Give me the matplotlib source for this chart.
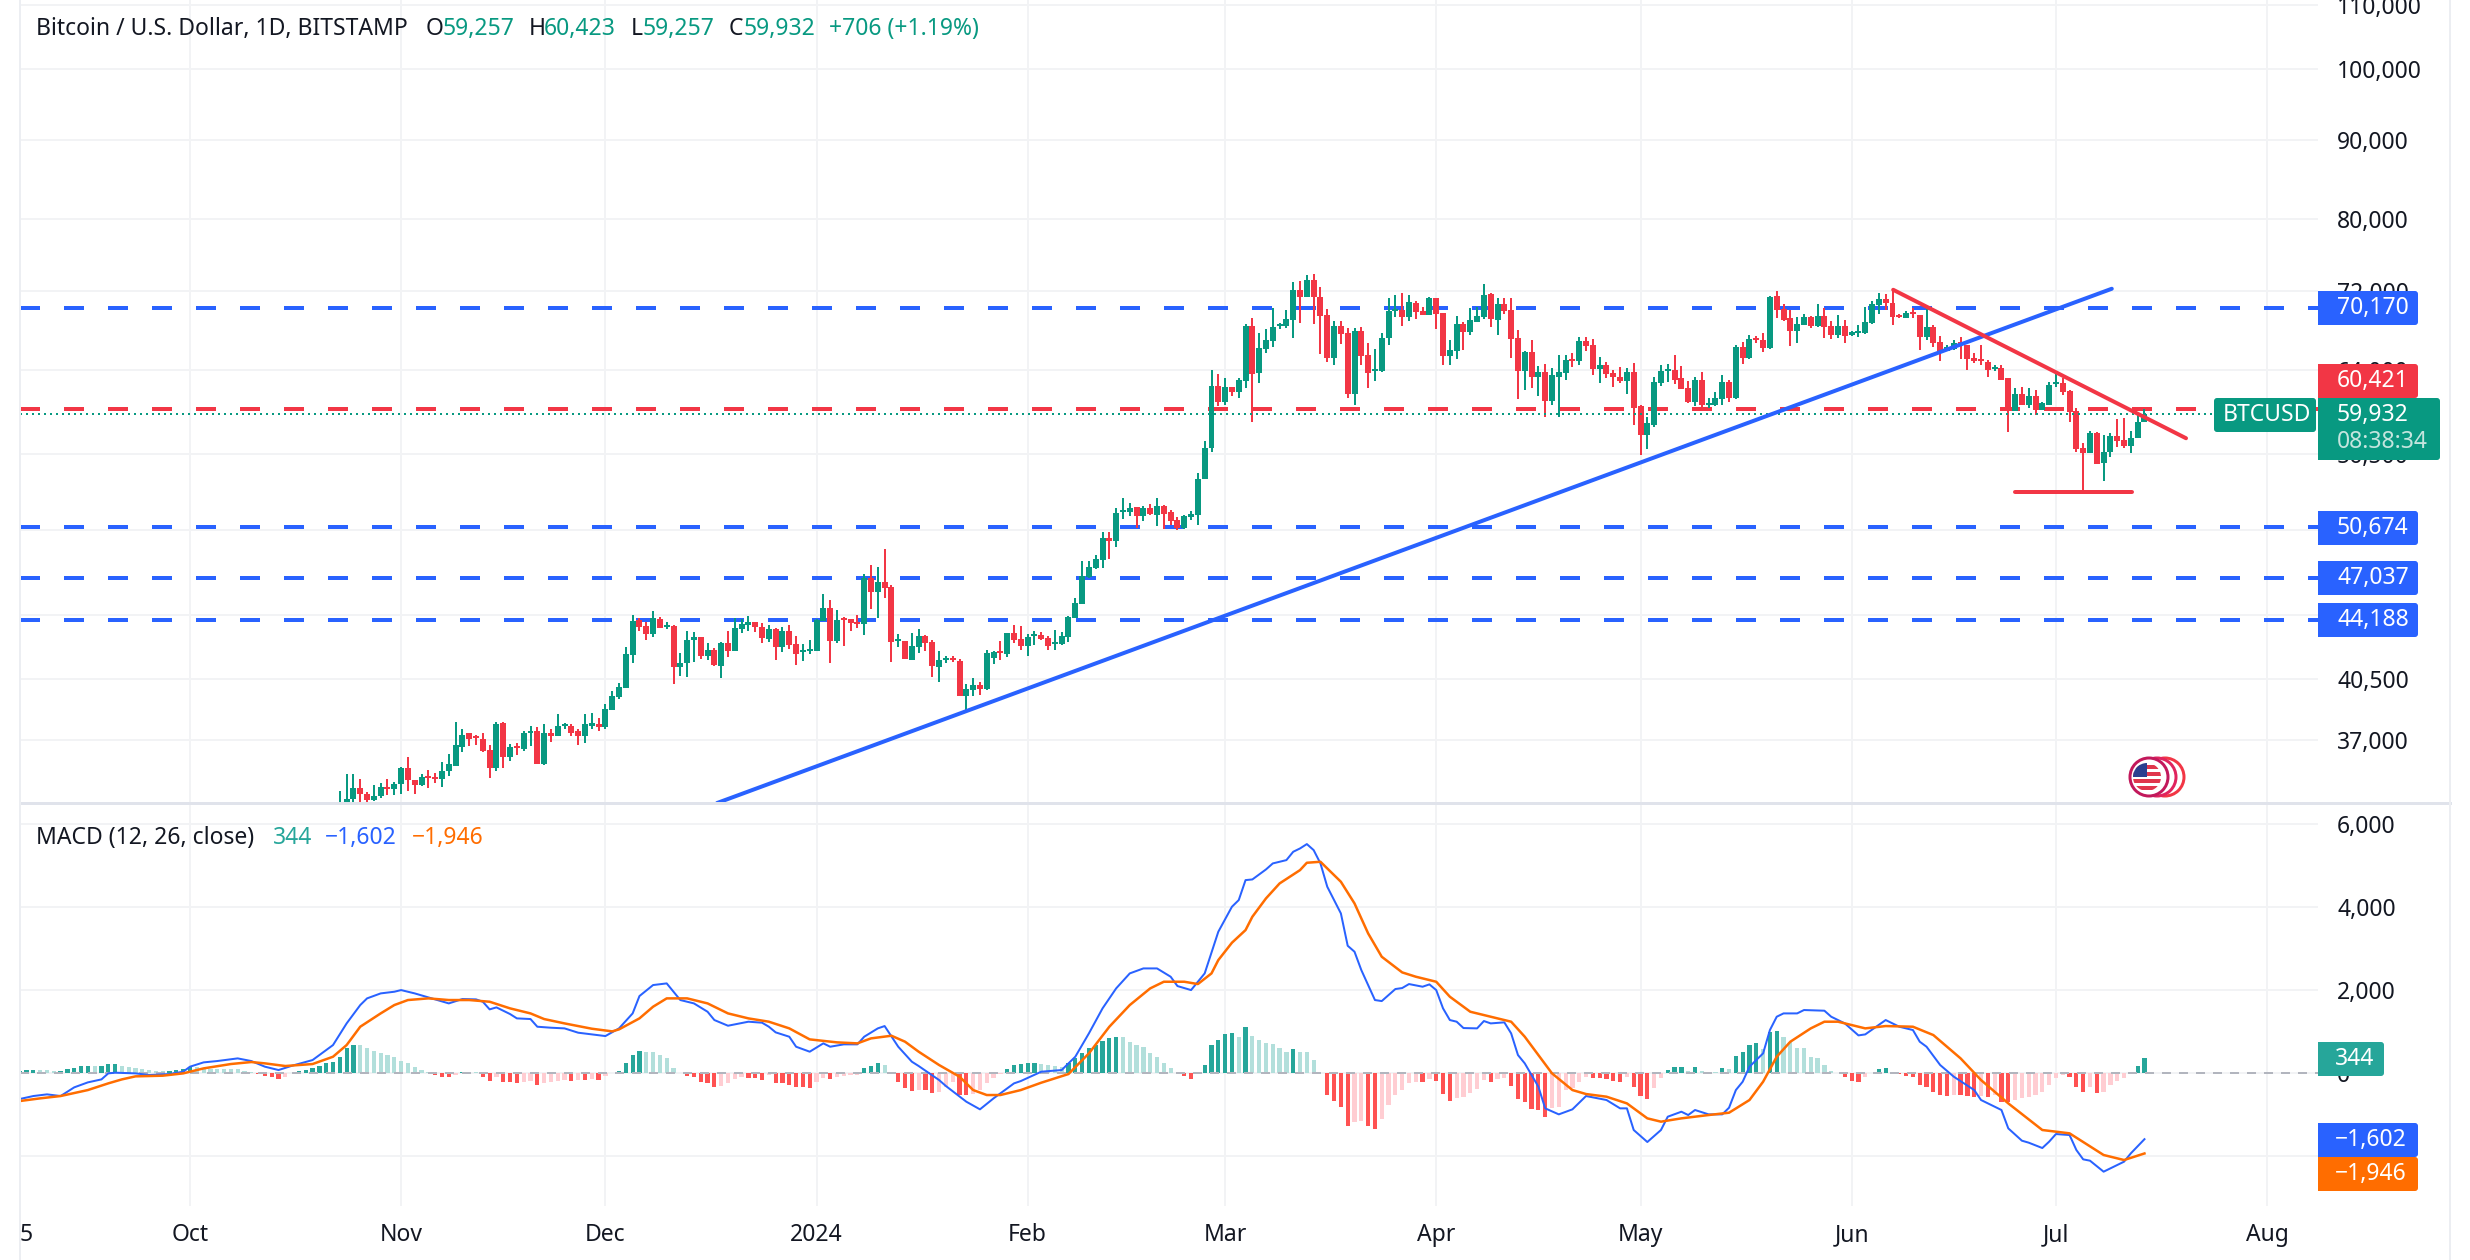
import numpy as np
import matplotlib
matplotlib.use('Agg')
import matplotlib.pyplot as plt
from matplotlib.patches import Rectangle, Circle, FancyBboxPatch
from matplotlib.ticker import NullLocator

plt.rcParams['font.family'] = ['Noto Sans', 'DejaVu Sans']
plt.rcParams['lines.scale_dashes'] = False

# candles, first one is 23 Oct 2023 (day 22, day 0 = 1 Oct 2023)
first_candle_day = 22
opens = [30500,33050,33900,34430,34130,33830,34030,34500,34400,34650,35450,34840,34580,35060,35000,34900,35320,35560,36620,37340,37220,37050,36440,35480,37900,36060,36660,36490,37390,37450,35700,37390,37220,37730,37780,37450,37170,37780,37840,37670,38640,39400,39940,41950,44180,43790,43270,44240,43720,43790,41200,41450,42890,43080,41890,42260,41270,42700,42200,43590,43850,44050,43720,42950,43590,42450,43460,42640,42130,42200,42200,44110,44970,42830,44300,44240,44050,43920,47000,46040,46720,46380,42830,42830,41640,42450,43150,42760,41200,41640,41770,41580,39460,39820,40120,39880,41770,42200,42010,43340,42950,42510,43150,43210,43020,42640,42640,43080,44300,45230,47060,47690,48260,49920,49630,51880,51880,52200,51570,52120,51650,52280,51880,51270,50670,51500,51650,54480,56970,
    62480,61000,62400,61990,63000,68340,63760,66050,66840,68340,68340,68950,72080,71340,73150,71340,69460,65180,68340,67640,61800,67840,65470,63940,63940,67140,69880,69980,69260,70710,69880,69460,71230,69670,65370,65860,68540,67740,68750,69260,71650,68950,70600,69980,67140,63940,65760,63380,63850,61160,63380,63760,65090,64900,66840,66450,64130,64510,63760,63380,63000,63850,60630,58160,59030,62820,63940,64040,63200,62350,61070,63100,60720,60720,61340,62910,61440,66250,65180,67140,66940,66150,71440,70080,69150,67840,68440,69260,68340,69360,68340,67440,68340,67440,67640,67640,68640,70500,71130,70710,69460,69150,69770,69460,67240,68240,66740,65860,66050,66740,66450,65180,65090,64800,64130,64230,63200,60180,61800,60720,61620,60270,60800,62720,62820,62080,60180,57050,56550,58250,55790,56630,57990,57730,57220,57820,59257]
highs = [34270,35170,35170,34880,34250,34580,34700,34880,34750,35550,36040,34840,35170,35370,35220,35800,36200,37950,37560,37390,37280,37390,36710,37950,37950,36770,36820,37500,37780,37670,37840,37610,38410,37900,37840,37560,38410,38470,38190,39000,39760,40240,42450,44500,44300,44050,44770,44370,44050,43850,42070,43460,43400,43080,42700,42390,42760,43460,44300,44240,44440,44050,43980,43850,43660,43720,43850,43150,42640,42890,44240,45900,45490,44830,44370,44240,44500,47270,47900,47760,49050,46510,43270,42830,43340,43590,43210,42890,42200,41890,41890,41700,40180,40540,40300,42260,42200,42830,43340,43850,43790,43270,43460,43400,43150,43530,43400,44440,45630,48190,48190,48620,50300,50370,52120,52900,52570,52200,52350,52500,52960,52420,52040,51500,51650,51960,54960,57640,64040,
    63660,63290,62400,63290,68540,69150,67640,68040,70190,68640,69980,72930,73040,73690,73800,72400,70080,68850,68850,68140,68140,68240,66650,66050,67640,71230,71550,71760,71550,70920,70290,71340,71230,69670,66940,69360,68750,70190,70290,72720,71760,71230,71230,71230,67940,65860,66940,64420,64610,64230,65470,65470,65660,67240,67240,67040,65280,64800,64040,64320,64230,64700,60800,59650,63380,64510,64610,65470,64420,63000,63380,63850,61440,61900,63480,63100,66450,66740,67440,67340,67640,71440,71970,70600,69980,69260,69560,69360,70600,70190,68850,69460,68950,67840,68440,70290,70920,71760,71650,72180,69560,69880,70190,69460,70080,68440,67340,66450,66940,67240,66450,65660,66450,64990,64510,64510,63290,62350,62440,62350,62170,61070,62910,63760,63200,62170,60450,57470,58500,58420,58160,58250,59470,59560,58500,59910,60423]
lows = [30100,32900,33700,33700,33700,33800,33920,34080,34080,34130,34300,34130,34540,34430,34700,34480,35060,35560,36350,36660,36710,36330,34950,35320,35480,35850,36170,36390,36660,35700,35640,36880,37220,37610,37170,36710,36820,37560,37500,37610,38640,39290,39940,41450,43460,42890,43080,43660,43590,40180,40660,40600,41510,41700,41640,41270,40540,41830,42200,43340,43460,43400,42700,42760,41640,42130,42320,41330,41580,42010,42200,44110,41450,42700,42510,43460,43660,43210,44900,44300,45630,41510,42450,41700,41640,42070,42200,40600,40300,41450,41510,39460,38530,39460,39520,39820,41390,41640,41830,42700,42260,41890,42580,42890,42260,42260,42580,42760,44300,45230,47000,47620,47690,48330,49260,51340,51570,50670,51190,51650,50810,50590,50890,50520,50590,51270,50890,54480,56710,
    60630,60800,61620,61440,62350,59290,62820,65660,66250,68040,68140,67140,68640,71340,68540,65570,64800,64510,66550,61440,60800,64510,62350,63000,63850,66450,69260,68340,68850,69050,69460,69460,68040,64510,64510,65090,65960,67440,68750,69050,68240,67440,69560,65180,61340,62170,62350,61620,59650,60800,59650,63100,64320,64510,65860,63570,62820,63290,62440,62820,61800,59030,56460,56960,58850,62540,62910,62720,62260,60900,60630,60180,60450,60630,60720,61070,61340,64610,65090,66650,65760,66050,69150,68850,66350,66650,68440,68140,68240,67140,67040,67140,66650,67340,67240,67540,68540,69560,69980,68440,69150,69150,69150,65960,66940,66250,64900,65860,65960,65090,64040,64700,64510,63380,63940,63100,58420,60180,60720,60530,59910,60270,60720,62440,61710,59290,56710,53440,56550,55700,54320,56290,57130,57050,56550,57820,59257]
closes = [33050,33900,34430,34130,33830,34030,34480,34400,34650,35450,34840,34580,35000,34950,34900,35320,35660,36680,37280,37050,37110,36390,35480,37840,36060,36600,36550,37390,37500,35700,37390,37220,37730,37840,37390,37170,37840,37900,37670,38700,39460,40000,42010,44110,43720,43270,44300,43660,43850,41200,41450,42890,43080,41890,42260,41330,42700,42200,43660,43920,44050,43720,43020,43590,42450,43460,42580,42010,42260,42320,44180,44970,42830,44180,44180,43980,43920,47000,46040,46720,46310,42760,42950,41700,42510,43150,42700,41270,41640,41770,41640,39460,39880,40120,39880,42070,42130,42070,43340,42890,42510,43080,43270,42950,42510,42760,43150,44370,45300,47130,47760,48330,49920,49630,51800,52040,52120,51570,52120,51730,52280,51730,51190,50670,51570,51730,54480,57050,62480,
    61000,62400,61990,63100,68340,63660,66150,66940,68240,68540,69050,72080,71340,73150,71340,69360,65180,68340,67540,61800,67840,65370,63760,64130,67140,69880,70080,69260,70810,69770,69460,71230,69560,65370,65960,68540,67740,68950,69360,71550,69050,70600,69880,67040,63940,65760,63380,63850,61160,63480,63850,64990,64900,66840,66350,64130,64510,63660,63380,63000,63850,60530,58160,59120,62910,63940,64130,63100,62260,61070,63100,60720,60900,61440,62910,61440,66250,65180,67040,66940,66150,71340,69980,68950,67840,68540,69260,68340,69360,68240,67440,68340,67340,67740,67840,68750,70600,71130,70710,69260,69260,69670,69560,67240,68240,66650,65860,66250,66650,66550,65090,64900,64900,64040,64320,63100,60270,61800,60720,61620,60270,60900,62630,62910,61990,60090,56960,56550,58250,55700,56710,58070,57640,57220,57900,59210,59932]

# macd lines, picked at the turning points of the picture
macd_days = [-25,-23,-21,-19,-17,-15,-13,-12,-11,-8,-6,-3,-1,0,2,4,7,9,11,13,15,18,20,21,23,25,26,28,30,31,33,36,38,40,42,43,44,45,47,48,50,51,53,55,57,61,63,65,66,68,70,72,74,76,77,79,82,84,85,86,88,89,91,93,94,96,98,99,101,102,104,106,107,110,111,114,116,118,121,122,125,128,130,132,134,136,138,140,142,144,145,147,149,151,153,154,155,156,158,159,161,162,163,164,165,166,167,168,169,170,171,172,173,174,175,177,178,179,181,182,183,184,185,186,187,189,190,191,193,194,195,196,198,199,201,203,205,208,210,211,212,214,216,217,219,220,221,223,225,226,227,228,229,231,232,233,234,236,237,240,241,243,245,246,249,251,253,254,255,257,259,262,263,266,267,269,270,272,273,274,276,277,278,279,281,284,285,287]
macd_line = [-634,-562,-522,-562,-353,-233,-161,-16,0,-16,-56,-32,24,145,249,281,345,281,145,64,169,305,546,666,1188,1630,1791,1911,1951,1991,1911,1767,1670,1775,1767,1710,1526,1574,1413,1309,1293,1108,1084,1068,964,883,1068,1429,1847,2112,2152,1751,1670,1469,1269,1132,1229,1205,1108,972,867,626,506,707,626,683,683,867,1068,1124,626,265,161,-177,-321,-699,-883,-618,-257,-201,24,64,385,948,1550,2032,2393,2513,2513,2313,2088,1991,2393,3397,3999,4160,4641,4657,4898,5043,5123,5324,5404,5509,5364,5043,4481,4160,3838,3059,2915,2473,2112,1751,1726,2016,2040,2136,2072,2128,1991,1550,1269,1229,1076,1068,1245,1188,1213,948,426,225,-337,-859,-1004,-883,-562,-658,-859,-859,-1381,-1670,-1381,-1060,-940,-1020,-899,-1004,-1004,-843,-418,-217,145,466,1028,1349,1429,1429,1510,1494,1349,1188,899,923,1269,1108,1028,747,626,185,-96,-418,-658,-899,-1341,-1638,-1686,-1815,-1662,-1478,-1502,-1863,-2088,-2120,-2385,-2144,-1943,-1602]
signal_days = [-25,-22,-19,-15,-12,-10,-8,-4,-1,2,6,9,11,14,18,21,23,25,28,30,32,35,38,41,44,47,50,52,55,59,62,63,66,68,70,73,76,79,82,85,88,91,95,98,100,103,105,107,110,113,115,117,119,122,125,129,132,135,138,141,143,146,148,150,151,153,155,156,158,160,163,164,166,167,169,171,173,175,178,180,183,185,188,191,194,196,200,203,205,208,211,214,216,219,223,226,229,231,233,235,238,240,242,246,249,253,256,260,263,267,272,276,281,284,287]
signal_line = [-683,-618,-562,-418,-257,-161,-88,-72,-16,104,209,257,225,161,209,385,666,1108,1429,1630,1751,1791,1751,1751,1710,1550,1429,1293,1188,1060,996,1044,1309,1590,1791,1791,1670,1429,1309,1229,1068,803,731,707,827,891,747,506,185,-96,-418,-538,-538,-418,-241,-32,466,1108,1630,2032,2192,2192,2136,2393,2714,3132,3437,3758,4200,4561,4882,5059,5083,4922,4601,4079,3357,2794,2417,2313,2192,1831,1469,1349,1229,867,-16,-418,-514,-578,-739,-1100,-1180,-1100,-1020,-964,-658,-217,385,747,1068,1229,1229,1068,1124,1108,907,345,-177,-739,-1381,-1461,-1983,-2104,-1946]

# histogram, one bar per day from day -25
first_hist_day = -25
hist_values = [40,60,70,70,60,30,40,80,120,150,160,160,170,200,210,160,140,120,90,60,40,30,50,70,90,140,130,110,100,90,90,90,90,50,20,
    -30,-80,-112,-144,-112,-5,48,64,104,168,224,264,384,584,664,660,584,528,480,424,368,288,224,144,64,16,-64,-96,-96,-64,16,24,16,-112,-192,-96,-216,-224,-240,-216,-200,-296,-240,-216,-192,-176,-192,-176,-176,-160,-176,-80,-16,48,224,424,520,488,488,424,344,120,0,-80,-112,-216,-256,-336,-320,-256,-160,-112,-136,-136,-176,-56,-240,-256,-296,-336,-352,-360,-216,-136,-160,-96,-80,-64,-56,104,168,224,184,-40,-216,-376,-432,-416,-416,-480,-456,-336,-216,-536,-536,-512,-416,-256,-136,-32,96,184,208,224,240,208,184,168,144,224,344,464,584,664,768,848,864,850,744,664,608,464,384,224,104,0,-80,-160,-5,184,664,800,928,
    950,860,1105,880,785,705,680,585,505,570,505,490,305,-15,-538,-675,-819,-1285,-1180,-1156,-1285,-1357,-1124,-779,-538,-418,-241,-217,-217,-161,-193,-514,-683,-618,-594,-498,-401,-177,-217,-161,-137,-313,-642,-699,-883,-899,-1060,-859,-819,-418,-377,-217,-112,-120,-137,-161,-193,-217,-96,-337,-562,-634,-361,-137,64,128,145,48,128,40,16,16,104,80,401,506,666,707,562,988,1004,851,747,586,586,385,345,185,48,-16,-96,-193,-217,-96,-16,80,104,24,-32,-80,-112,-297,-337,-458,-538,-562,-538,-538,-562,-578,-562,-578,-538,-699,-699,-658,-618,-578,-538,-458,-297,-137,-56,-96,-337,-458,-337,-482,-458,-297,-193,-120,24,161,344]

# levels and drawn lines on the price pane
blue_levels = [70170, 50674, 47037, 44188]
red_level = 60421
last_price = 59932
support_days = [77.4, 282.2]
support_prices = [33680, 72190]
resist_days = [250.1, 293.1]
resist_prices = [72080, 57840]
low_days = [268, 285.2]
low_prices = [53400, 53400]

price_ticks = [37000, 40500, 44500, 50500, 56500, 64000, 72000, 80000, 90000, 100000, 110000]
macd_ticks = [-2000, 0, 2000, 4000, 6000]
month_days = [0, 31, 61, 92, 123, 152, 183, 213, 244, 274, 305]
month_labels = ['Oct', 'Nov', 'Dec', '2024', 'Feb', 'Mar', 'Apr', 'May', 'Jun', 'Jul', 'Aug']

GREEN = '#089981'
RED = '#f23645'
BLUE = '#2962ff'
ORANGE = '#ff6d00'
INK = '#131722'
GRID = '#f2f3f5'
W, H = 2470, 1260
FS = 16.5


def pane(left, top, right, bottom):
    return fig.add_axes([left / W, 1 - bottom / H, (right - left) / W, (bottom - top) / H])


def px(n):
    # pixels to points
    return n * 0.72


def label_box(x0, y0, x1, y1, color):
    box = FancyBboxPatch((x0, y0), x1 - x0, y1 - y0, boxstyle='round,pad=0,rounding_size=3',
                         fc=color, ec='none', zorder=2)
    over.add_patch(box)
    over.add_patch(Rectangle((x0, y0), 6, y1 - y0, fc=color, ec='none', zorder=2))


fig = plt.figure(figsize=(W / 100, H / 100), dpi=100)
ax = pane(20, 0, 2318, 803)
mx = pane(20, 803, 2318, 1206)

day_left = (20 - 190) / 6.81
day_right = (2318 - 190) / 6.81

# price pane
ax.set_yscale('log')
ax.set_xlim(day_left, day_right)
ax.set_ylim(33680, 110763)
ax.yaxis.set_minor_locator(NullLocator())
ax.yaxis.tick_right()
ax.set_yticks(price_ticks)
ax.set_yticklabels(['{:,}'.format(v) for v in price_ticks], fontsize=FS, color=INK)
ax.tick_params(axis='y', length=0, pad=px(19))
ax.tick_params(axis='x', length=0, labelbottom=False)
ax.set_xticks(month_days)
ax.grid(True, color=GRID, lw=px(2))
ax.set_axisbelow(True)
for s in ax.spines.values():
    s.set_visible(False)

dash = (0, (px(20), px(24)))
for lv in blue_levels:
    ax.axhline(lv, color=BLUE, lw=px(4), ls=dash, dash_capstyle='butt', zorder=2)
ax.axhline(red_level, color=RED, lw=px(4), ls=dash, dash_capstyle='butt', zorder=2)

days = first_candle_day + np.arange(len(closes))
op = np.array(opens, dtype=float)
cl = np.array(closes, dtype=float)
colors = [GREEN if c >= o else RED for o, c in zip(op, cl)]
ax.vlines(days, lows, highs, colors=colors, lw=px(2), zorder=3)
tops = np.maximum(op, cl)
bots = np.minimum(op, cl)
ax.bar(days, tops - bots, bottom=bots, width=0.88, color=colors, zorder=3.1, lw=0)

ax.axhline(last_price, color=GREEN, lw=px(2), ls=(0, (px(2), px(4))), dash_capstyle='butt', zorder=3.5)
ax.plot(support_days, support_prices, color=BLUE, lw=px(4), solid_capstyle='round', zorder=4)
ax.plot(resist_days, resist_prices, color=RED, lw=px(4), solid_capstyle='round', zorder=4)
ax.plot(low_days, low_prices, color=RED, lw=px(4), solid_capstyle='round', zorder=4)

# macd pane
mx.set_xlim(day_left, day_right)
mx.set_ylim(-3212, 6499)
mx.yaxis.tick_right()
mx.set_yticks(macd_ticks)
mx.set_yticklabels(['\u22122,000', '0', '2,000', '4,000', '6,000'], fontsize=FS, color=INK)
mx.tick_params(axis='y', length=0, pad=px(19))
mx.set_xticks(month_days)
mx.set_xticklabels(month_labels, fontsize=FS, color=INK)
mx.tick_params(axis='x', length=0, pad=px(17))
mx.get_xticklabels()[3].set_fontweight('bold')
mx.grid(True, color=GRID, lw=px(2))
mx.set_axisbelow(True)
for s in mx.spines.values():
    s.set_visible(False)

hist_days = first_hist_day + np.arange(len(hist_values))
bar_colors = []
prev = 0
for v in hist_values:
    if v >= 0:
        bar_colors.append('#26a69a' if v > prev else '#b2dfdb')
    else:
        bar_colors.append('#ffcdd2' if v > prev else '#ff5252')
    prev = v
mx.bar(hist_days, hist_values, width=0.62, color=bar_colors, lw=0, zorder=2)
mx.axhline(0, color='#b2b5be', lw=px(2), ls=(0, (px(9), px(8))), dash_capstyle='butt', zorder=2.5)
mx.plot(macd_days, macd_line, color=BLUE, lw=px(2), zorder=3)
mx.plot(signal_days, signal_line, color=ORANGE, lw=px(2.5), zorder=3.5)

# everything in screen pixels goes on this one
over = fig.add_axes([0, 0, 1, 1], zorder=10)
over.set_xlim(0, W)
over.set_ylim(H, 0)
over.axis('off')
over.patch.set_alpha(0)

over.plot([20, 2450], [803, 803], color='#e0e3eb', lw=px(3), zorder=1)
over.plot([20, 20], [0, H], color='#eceef2', lw=px(2), zorder=1)
over.plot([2450, 2450], [0, H], color='#eceef2', lw=px(2), zorder=1)

# header line
title_parts = [
    (36, 'Bitcoin / U.S. Dollar, 1D, BITSTAMP', INK), (426, 'O', INK), (443, '59,257', GREEN),
    (529, 'H', INK), (544, '60,423', GREEN), (631, 'L', INK), (643, '59,257', GREEN),
    (729, 'C', INK), (744, '59,932', GREEN), (829, '+706 (+1.19%)', GREEN),
]
for xp, s, c in title_parts:
    over.text(xp, 29, s, color=c, fontsize=FS, va='center', ha='left')

macd_parts = [(36, 'MACD (12, 26, close)', INK), (273, '344', '#26a69a'),
              (325, '\u22121,602', BLUE), (412, '\u22121,946', ORANGE)]
for xp, s, c in macd_parts:
    over.text(xp, 838, s, color=c, fontsize=FS, va='center', ha='left')

# price tags on the scale
for yc, s, c in [(308, '70,170', BLUE), (528, '50,674', BLUE), (578, '47,037', BLUE), (620, '44,188', BLUE), (381, '60,421', RED)]:
    label_box(2318, yc - 17, 2418, yc + 17, c)
    over.text(2337, yc, s, color='white', fontsize=FS, va='center', ha='left', zorder=3)

label_box(2318, 398, 2440, 460, GREEN)
over.text(2337, 415, '59,932', color='white', fontsize=FS, va='center', ha='left', zorder=3)
over.text(2337, 442, '08:38:34', color='#c4e5de', fontsize=FS, va='center', ha='left', zorder=3)
over.add_patch(FancyBboxPatch((2214, 398), 102, 34, boxstyle='round,pad=0,rounding_size=3', fc=GREEN, ec='none', zorder=2))
over.text(2223, 415, 'BTCUSD', color='white', fontsize=FS, va='center', ha='left', zorder=3)

label_box(2318, 1042, 2384, 1076, '#26a69a')
over.text(2335, 1059, '344', color='white', fontsize=FS, va='center', ha='left', zorder=3)
label_box(2318, 1123, 2418, 1157, BLUE)
over.text(2335, 1140, '\u22121,602', color='white', fontsize=FS, va='center', ha='left', zorder=3)
label_box(2318, 1157, 2418, 1191, ORANGE)
over.text(2335, 1174, '\u22121,946', color='white', fontsize=FS, va='center', ha='left', zorder=3)

# cut off tick label at the left edge
over.text(20, 1235, '5', color=INK, fontsize=FS, va='center', ha='left', zorder=3)

# calendar icon, three rings and a flag
for cx, col in [(2165, '#f23645'), (2157, '#e0245e'), (2149, '#c2185b')]:
    over.add_patch(Circle((cx, 777), 19, fc='white', ec=col, lw=px(3), zorder=4))
flag = Circle((2147, 777), 14, fc='white', ec='none', zorder=5)
over.add_patch(flag)
for i in range(4):
    st = Rectangle((2133, 765 + i * 7), 28, 3.5, fc='#e0364c', ec='none', zorder=5.1)
    over.add_patch(st)
    st.set_clip_path(flag)
cant = Rectangle((2133, 763), 14, 14, fc='#2a3f8f', ec='none', zorder=5.2)
over.add_patch(cant)
cant.set_clip_path(flag)

fig.savefig('out.png', dpi=100, facecolor='white')
